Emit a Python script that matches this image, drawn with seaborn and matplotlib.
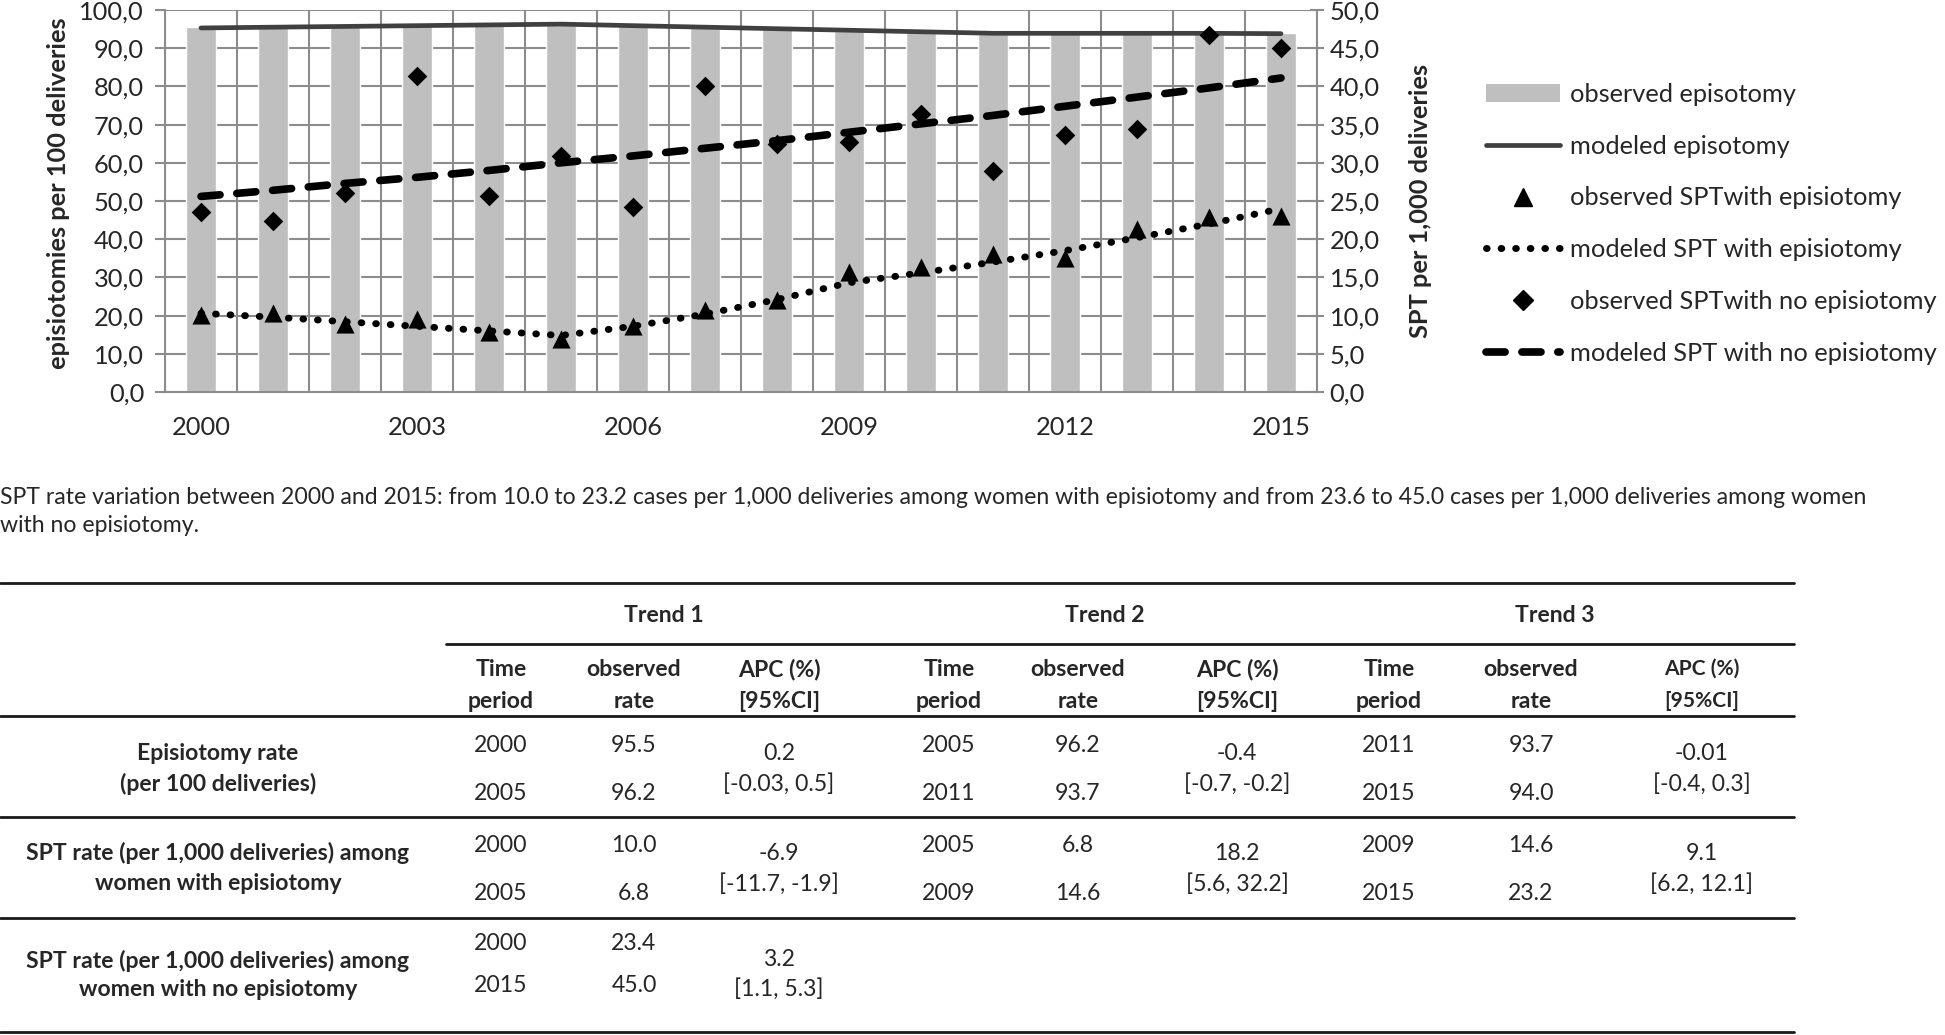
import numpy as np
import pandas as pd
import matplotlib
matplotlib.use("Agg")
import matplotlib.pyplot as plt
import seaborn as sns
from matplotlib.lines import Line2D
from matplotlib.patches import Patch
from matplotlib.ticker import FuncFormatter, MultipleLocator

# ---- chart data ----
years = list(range(2000, 2016))
obs_epi = [95.5, 95.6, 95.9, 96.1, 96.0, 96.2, 96.0, 95.6, 95.1, 94.6, 94.2, 93.7, 94.0, 94.0, 94.4, 94.0]
mod_epi = [95.3, 95.5, 95.7, 95.9, 96.1, 96.3, 95.9, 95.5, 95.1, 94.7, 94.3, 93.9, 93.9, 93.9, 93.9, 93.8]
obs_spt_epi = [10.1, 10.3, 8.9, 9.5, 7.8, 6.9, 8.7, 10.7, 12.1, 15.7, 16.4, 18.1, 17.6, 21.4, 22.9, 23.1]
mod_spt_epi = [10.3, 9.8, 9.2, 8.6, 8.0, 7.4, 8.6, 10.2, 12.1, 14.3, 15.6, 17.0, 18.5, 20.2, 22.0, 24.0]
obs_spt_noepi = [23.6, 22.4, 26.0, 41.4, 25.7, 30.9, 24.2, 40.1, 32.5, 32.7, 36.4, 28.9, 33.6, 34.4, 46.7, 45.0]
mod_spt_noepi = [25.6, 26.4, 27.3, 28.1, 29.0, 30.0, 30.9, 31.9, 32.9, 34.0, 35.1, 36.2, 37.4, 38.6, 39.8, 41.1]
year_labels = [2000, 2003, 2006, 2009, 2012, 2015]

legend_labels = ["observed episotomy", "modeled episotomy", "observed SPTwith episiotomy",
                 "modeled SPT with episiotomy", "observed SPTwith no episiotomy",
                 "modeled SPT with no episiotomy"]

note_lines = ["SPT rate variation between 2000 and 2015: from 10.0 to 23.2 cases per 1,000 deliveries among women "
              "with episiotomy and from 23.6 to 45.0 cases per 1,000 deliveries among women",
              "with no episiotomy."]

# ---- table data ----
trend_names = ["Trend 1", "Trend 2", "Trend 3"]
col_headers = [["Time", "period"], ["observed", "rate"], ["APC (%)", "[95%CI]"]]
row_labels = [["Episiotomy rate", "(per 100 deliveries)"],
              ["SPT rate (per 1,000 deliveries) among", "women with episiotomy"],
              ["SPT rate (per 1,000 deliveries) among", "women with no episiotomy"]]
periods = [[("2000", "2005"), ("2005", "2011"), ("2011", "2015")],
           [("2000", "2005"), ("2005", "2009"), ("2009", "2015")],
           [("2000", "2015")]]
rates = [[("95.5", "96.2"), ("96.2", "93.7"), ("93.7", "94.0")],
         [("10.0", "6.8"), ("6.8", "14.6"), ("14.6", "23.2")],
         [("23.4", "45.0")]]
apcs = [[("0.2", "[-0.03, 0.5]"), ("-0.4", "[-0.7, -0.2]"), ("-0.01", "[-0.4, 0.3]")],
        [("-6.9", "[-11.7, -1.9]"), ("18.2", "[5.6, 32.2]"), ("9.1", "[6.2, 12.1]")],
        [("3.2", "[1.1, 5.3]")]]

df = pd.DataFrame({"year": years, "obs_epi": obs_epi, "mod_epi": mod_epi,
                   "obs_spt_epi": obs_spt_epi, "mod_spt_epi": mod_spt_epi,
                   "obs_spt_noepi": obs_spt_noepi, "mod_spt_noepi": mod_spt_noepi})

sns.set_theme(style="white")
plt.rcParams['font.family'] = ['Lato', 'DejaVu Sans']

W, H = 1945, 1035
fig = plt.figure(figsize=(W / 100, H / 100), dpi=100)

def fx(px):
    return px / W

def fy(py):
    return 1 - py / H

GRID = "#8C8C8C"
FS = 18.3    # chart text
TFS = 16.6   # table / note text
DOT = dict(color="black", lw=5.0, linestyle=(0, (0.1, 2.0)), dash_capstyle="round")
DASH = dict(color="black", lw=5.5, linestyle=(0, (2.5, 2.2)), dash_capstyle="round")

# ---- chart ----
L, R, T, B = 165, 1317, 10, 392
ax = fig.add_axes([fx(L), fy(B), fx(R) - fx(L), fy(T) - fy(B)])
sns.barplot(data=df, x="year", y="obs_epi", native_scale=True, width=0.43,
            color="#BFBFBF", saturation=1, errorbar=None, ax=ax, zorder=2)
sns.lineplot(data=df, x="year", y="mod_epi", color="#404040", lw=3.4, ax=ax, zorder=3)

ax2 = ax.twinx()
sns.lineplot(data=df, x="year", y="mod_spt_epi", ax=ax2, **DOT)
sns.lineplot(data=df, x="year", y="mod_spt_noepi", ax=ax2, **DASH)
sns.scatterplot(data=df, x="year", y="obs_spt_epi", marker="^", s=170, color="black",
                edgecolor="black", linewidth=0, ax=ax2, zorder=5)
sns.scatterplot(data=df, x="year", y="obs_spt_noepi", marker="D", s=100, color="black",
                edgecolor="black", linewidth=0, ax=ax2, zorder=5)

ax.set_xlim(1999.5, 2015.5)
ax.set_ylim(0, 100)
ax2.set_ylim(0, 50)
ax.yaxis.set_major_locator(MultipleLocator(10))
ax2.yaxis.set_major_locator(MultipleLocator(5))
comma = FuncFormatter(lambda v, p: f"{v:.1f}".replace(".", ","))
ax.yaxis.set_major_formatter(comma)
ax2.yaxis.set_major_formatter(comma)

ax.set_xticks(year_labels)
ax.set_xticklabels([str(y) for y in year_labels])
ax.set_xticks(np.arange(years[0] - 0.5, years[-1] + 1, 1), minor=True)
ax.tick_params(axis="x", which="major", length=0, pad=17, labelsize=FS)
ax.tick_params(axis="x", which="minor", length=7, width=1.5, color=GRID, direction="out")
ax.tick_params(axis="y", length=7, width=1.5, color=GRID, pad=8, labelsize=FS, left=True)
ax2.tick_params(axis="y", length=10, width=1.5, color=GRID, direction="inout", pad=4, labelsize=FS)

ax.set_axisbelow(True)
ax.yaxis.grid(True, color=GRID, lw=1.5)
ax.xaxis.grid(True, which="minor", color=GRID, lw=1.5)
ax.xaxis.grid(False, which="major")
ax2.grid(False)

for s in ["top", "right"]:
    ax.spines[s].set_visible(False)
for s in ["top", "left", "bottom"]:
    ax2.spines[s].set_visible(False)
for sp in [ax.spines["left"], ax.spines["bottom"], ax2.spines["right"]]:
    sp.set_color(GRID)
    sp.set_linewidth(1.5)

ax.set_xlabel("")
ax.set_ylabel("episiotomies per 100 deliveries", fontsize=FS, fontweight="bold")
ax2.set_ylabel("SPT per 1,000 deliveries", fontsize=FS, fontweight="bold")
ax.yaxis.set_label_coords((70 - L) / (R - L), 0.52)
ax2.yaxis.set_label_coords((1409 - L) / (R - L), 0.5)

# ---- legend ----
handles = [
    Patch(facecolor="#BFBFBF", edgecolor="none"),
    Line2D([], [], color="#404040", lw=3.4),
    Line2D([], [], ls="none", marker="^", ms=13, color="black"),
    Line2D([], [], **DOT),
    Line2D([], [], ls="none", marker="D", ms=10, color="black"),
    Line2D([], [], **DASH),
]
fig.legend(handles, legend_labels, loc="upper left", bbox_to_anchor=(fx(1486), fy(83)),
           frameon=False, fontsize=FS, handlelength=2.9, handletextpad=0.4,
           labelspacing=1.13, borderpad=0, borderaxespad=0)

# ---- note ----
fig.text(fx(0), fy(497), note_lines[0], fontsize=TFS, ha="left", va="center")
fig.text(fx(0), fy(526), note_lines[1], fontsize=TFS, ha="left", va="center")

# ---- table ----
def hline(y, x0=0, x1=1794):
    fig.add_artist(Line2D([fx(x0), fx(x1)], [fy(y), fy(y)], color="#1a1a1a", lw=2))

for y in [583, 716, 817, 918, 1032]:
    hline(y)
hline(644, 446)

trend_x = [664, 1105, 1555]
col_x = [[501, 634, 779], [949, 1078, 1237], [1389, 1531, 1702]]
for t, name in enumerate(trend_names):
    fig.text(fx(trend_x[t]), fy(615), name, fontsize=TFS, fontweight="bold", ha="center", va="center")
    for c, hdr in enumerate(col_headers):
        fs = TFS - 1.5 if (t == 2 and c == 2) else TFS
        for k, line in enumerate(hdr):
            fig.text(fx(col_x[t][c]), fy([669, 701][k]), line, fontsize=fs,
                     fontweight="bold", ha="center", va="center")

val_y = [(745, 794), (845, 893), (943, 986)]
mid_y = [(753, 784), (853, 884), (959, 989)]
lab_y = [(753, 784), (853, 884), (961, 990)]
for r, lab in enumerate(row_labels):
    for k, line in enumerate(lab):
        fig.text(fx(218), fy(lab_y[r][k]), line, fontsize=TFS, fontweight="bold", ha="center", va="center")
    for t in range(len(periods[r])):
        for k in range(2):
            fig.text(fx(col_x[t][0]), fy(val_y[r][k]), periods[r][t][k], fontsize=TFS, ha="center", va="center")
            fig.text(fx(col_x[t][1]), fy(val_y[r][k]), rates[r][t][k], fontsize=TFS, ha="center", va="center")
            fig.text(fx(col_x[t][2]), fy(mid_y[r][k]), apcs[r][t][k], fontsize=TFS, ha="center", va="center")

fig.savefig("out.png", dpi=100)
